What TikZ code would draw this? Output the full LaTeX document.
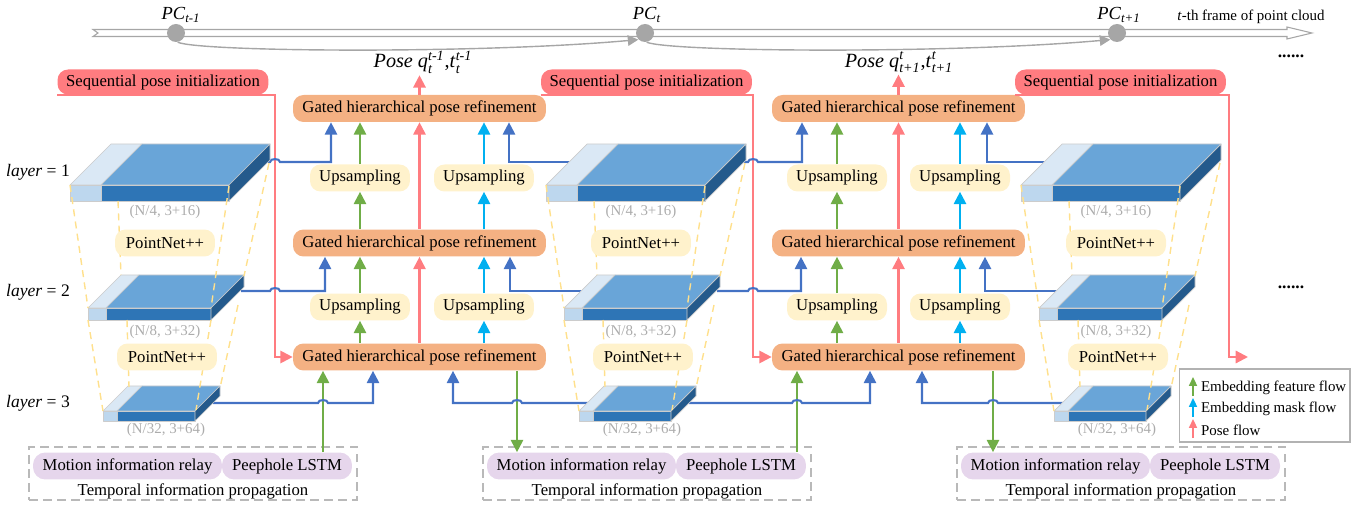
\documentclass[tikz,border=0pt]{standalone}
\usepackage{fontspec}
\setmainfont{Liberation Serif}
\usepackage{amsmath}
\usetikzlibrary{arrows.meta, positioning, calc}

\definecolor{ghprorange}{HTML}{F4B183}
\definecolor{upyellow}{HTML}{FFF2CC}
\definecolor{seqred}{HTML}{FF7C80}
\definecolor{relaypurple}{HTML}{E6D6EC}
\definecolor{featgreen}{HTML}{70AD47}
\definecolor{maskcyan}{HTML}{00B0F0}
\definecolor{posepink}{HTML}{FF7C80}
\definecolor{linkblue}{HTML}{4472C4}
\definecolor{blktop}{HTML}{69A5D8}
\definecolor{blkfront}{HTML}{2E75B6}
\definecolor{blkside}{HTML}{245A8C}
\definecolor{lighttop}{HTML}{DAE8F5}
\definecolor{lightfront}{HTML}{BDD7EE}
\definecolor{dashyellow}{HTML}{FFE08C}
\definecolor{timegray}{HTML}{A6A6A6}

% feature block: front-bottom-left x, y, width, height, depth, light width
\newcommand{\featblock}[6]{%
  \filldraw[blkedge, fill=lightfront] ({#1},{#2}) rectangle ({#1+#6},{#2-#4});
  \filldraw[blkedge, fill=blkfront] ({#1+#6},{#2}) rectangle ({#1+#3},{#2-#4});
  \filldraw[blkedge, fill=lighttop] ({#1},{#2-#4}) -- ({#1+#6},{#2-#4}) -- ({#1+#6+#5},{#2-#4-#5}) -- ({#1+#5},{#2-#4-#5}) -- cycle;
  \filldraw[blkedge, fill=blktop] ({#1+#6},{#2-#4}) -- ({#1+#3},{#2-#4}) -- ({#1+#3+#5},{#2-#4-#5}) -- ({#1+#6+#5},{#2-#4-#5}) -- cycle;
  \filldraw[blkedge, fill=blkside] ({#1+#3},{#2}) -- ({#1+#3},{#2-#4}) -- ({#1+#3+#5},{#2-#4-#5}) -- ({#1+#3+#5},{#2-#5}) -- cycle;
}

\begin{document}
\begin{tikzpicture}[x=0.02cm, y=-0.02cm, font=\fontsize{9.5}{11}\selectfont,
    ghpr/.style={fill=ghprorange, rounded corners=6pt, minimum width=5.06cm, minimum height=0.54cm, inner sep=0pt},
    upbox/.style={fill=upyellow, rounded corners=6pt, minimum width=2cm, minimum height=0.54cm, inner sep=0pt},
    seqbox/.style={fill=seqred, rounded corners=6pt, minimum width=4.22cm, minimum height=0.5cm, inner sep=0pt},
    relay/.style={fill=relaypurple, rounded corners=7pt, minimum height=0.54cm, inner sep=0pt},
    tpbox/.style={draw=gray!55, dash pattern=on 5pt off 3pt, line width=0.9pt, minimum width=6.56cm, minimum height=1.06cm, inner sep=0pt},
    dimlabel/.style={text=gray!65, font=\fontsize{8.5}{10}\selectfont},
    layerlabel/.style={font=\fontsize{10}{12}\selectfont},
    poselabel/.style={font=\fontsize{11.5}{13}\selectfont, inner sep=1pt},
    pclabel/.style={font=\fontsize{10.5}{12}\selectfont, inner sep=1pt},
    flow/.style={line width=1.2pt, -{Triangle[width=7pt,length=7pt]}},
    gflow/.style={flow, featgreen},
    cflow/.style={flow, maskcyan},
    pflow/.style={flow, posepink},
    bflow/.style={flow, linkblue},
    blkedge/.style={draw=gray!40, line width=0.4pt, line join=round},
    yelldash/.style={dashyellow, line width=0.8pt, dash pattern=on 4pt off 3pt},
    legtext/.style={anchor=west, font=\fontsize{8.5}{10}\selectfont, inner sep=1pt},
    legarrow/.style={line width=1pt, -{Triangle[width=4.5pt,length=5pt]}}]

    \useasboundingbox (0,0) rectangle (1359,506);

    % time line of point cloud frames
    \draw[timegray, fill=white, line width=0.6pt] (93,29.5) -- (1287,29.5) -- (1287,27) -- (1312,33) -- (1287,39) -- (1287,36.5) -- (93,36.5) -- (98,33) -- cycle;
    \node[circle, fill=timegray, minimum size=0.36cm, inner sep=0pt] (pc-a) at (176,33) {};
    \node[circle, fill=timegray, minimum size=0.36cm, inner sep=0pt] (pc-b) at (645,33) {};
    \node[circle, fill=timegray, minimum size=0.36cm, inner sep=0pt] (pc-c) at (1117,33) {};
    \node[pclabel] (pc-a-lbl) at (181,15) {\textit{PC}$_{\textit{t-1}}$};
    \node[pclabel] (pc-b-lbl) at (647,15) {\textit{PC}$_{\textit{t}}$};
    \node[pclabel] (pc-c-lbl) at (1119,15) {\textit{PC}$_{\textit{t+1}}$};
    \node[font=\fontsize{8.5}{10}\selectfont] (frame-lbl) at (1251,17) {\textit{t}-th frame of point cloud};
    \draw[timegray, line width=0.8pt, -{Triangle[width=6pt,length=6pt]}] (pc-a.-80) .. controls (200,52) and (480,54) .. (pc-b.-135);
    \draw[timegray, line width=0.8pt, -{Triangle[width=6pt,length=6pt]}] (pc-b.-80) .. controls (670,52) and (950,54) .. (pc-c.-135);

    % pose outputs
    \node[poselabel] (pose-a) at (423,62) {\textit{Pose q}$_{\textit{t}}^{\textit{t-1}}$,\textit{t}$_{\textit{t}}^{\textit{t-1}}$};
    \node[poselabel] (pose-b) at (899,62) {\textit{Pose q}$_{\textit{t+1}}^{\textit{t}}$,\textit{t}$_{\textit{t+1}}^{\textit{t}}$};
    \node[font=\bfseries] (dots-top) at (1291,56) {......};
    \node[font=\bfseries] (dots-mid) at (1291,287) {......};

    % sequential pose initialization
    \node[seqbox] (seq-a) at (163,82) {Sequential pose initialization};
    \node[seqbox] (seq-b) at (646.5,82) {Sequential pose initialization};
    \node[seqbox] (seq-c) at (1120.5,82) {Sequential pose initialization};
    \coordinate (pose-out) at (1248,357);

    % gated refinement columns
    \foreach \c/\cx/\ul/\ur in {a/419.5/360/484, b/898.5/837/960} {
        \node[ghpr] (ghpr-\c1) at (\cx,108.5) {Gated hierarchical pose refinement};
        \node[ghpr] (ghpr-\c2) at (\cx,243) {Gated hierarchical pose refinement};
        \node[ghpr] (ghpr-\c3) at (\cx,357) {Gated hierarchical pose refinement};
        \node[upbox] (up-\c1l) at (\ul,178) {Upsampling};
        \node[upbox] (up-\c1r) at (\ur,178) {Upsampling};
        \node[upbox] (up-\c2l) at (\ul,307) {Upsampling};
        \node[upbox] (up-\c2r) at (\ur,307) {Upsampling};
    }

    % temporal information propagation
    \foreach \tx/\g in {29/a, 483/b, 957/c} {
        \node[tpbox] (tp-\g) at ({\tx+164},473.5) {};
        \node[relay, minimum width=3.78cm] (relay-\g) at ({\tx+98.5},466) {Motion information relay};
        \node[relay, minimum width=2.6cm] (peep-\g) at ({\tx+258},466) {Peephole LSTM};
        \node (tp-\g-txt) at ({\tx+164},491) {Temporal information propagation};
    }

    % layer labels
    \node[layerlabel] (layer-1) at (38,172) {\textit{layer} = 1};
    \node[layerlabel] (layer-2) at (38,292) {\textit{layer} = 2};
    \node[layerlabel] (layer-3) at (38,403) {\textit{layer} = 3};

    % legend
    \node[draw=gray!60, line width=0.6pt, minimum width=3.42cm, minimum height=1.46cm, inner sep=0pt] (legend) at (1264.5,405.5) {};
    \node[legtext] (leg-feat) at (1199,388) {Embedding feature flow};
    \node[legtext] (leg-mask) at (1199,409) {Embedding mask flow};
    \node[legtext] (leg-pose) at (1199,430) {Pose flow};
    \draw[legarrow, featgreen] ($(leg-feat.west)+(-6,8)$) -- ($(leg-feat.west)+(-6,-11)$);
    \draw[legarrow, maskcyan] ($(leg-mask.west)+(-6,8)$) -- ($(leg-mask.west)+(-6,-11)$);
    \draw[legarrow, posepink] ($(leg-pose.west)+(-6,8)$) -- ($(leg-pose.west)+(-6,-11)$);

    % pose initialization into the lowest refinement
    \draw[pflow] (seq-a.south west) -- (seq-a.south west -| 275,0) |- (ghpr-a3.west);
    \draw[pflow] (seq-b.south west) -- (seq-b.south west -| 753,0) |- (ghpr-b3.west);
    \draw[pflow] (seq-c.south west) -- (seq-c.south west -| 1229,0) |- (pose-out);

    % flows inside each column
    \foreach \c in {a,b} {
        \draw[gflow] (up-\c1l.north) -- (up-\c1l.north |- ghpr-\c1.south);
        \draw[gflow] (up-\c1l.south |- ghpr-\c2.north) -- (up-\c1l.south);
        \draw[gflow] (up-\c2l.north) -- (up-\c2l.north |- ghpr-\c2.south);
        \draw[gflow] (up-\c2l.south |- ghpr-\c3.north) -- (up-\c2l.south);
        \draw[cflow] (up-\c1r.north) -- (up-\c1r.north |- ghpr-\c1.south);
        \draw[cflow] (up-\c1r.south |- ghpr-\c2.north) -- (up-\c1r.south);
        \draw[cflow] (up-\c2r.north) -- (up-\c2r.north |- ghpr-\c2.south);
        \draw[cflow] (up-\c2r.south |- ghpr-\c3.north) -- (up-\c2r.south);
        \draw[pflow] (ghpr-\c3.north) -- (ghpr-\c2.south);
        \draw[pflow] (ghpr-\c2.north) -- (ghpr-\c1.south);
        \draw[pflow] (ghpr-\c1.north) -- (ghpr-\c1.north |- pose-\c.south);
    }

    % temporal flows
    \draw[gflow] (peep-a.north -| 323,0) -- (ghpr-a3.south -| 323,0);
    \draw[gflow] (ghpr-a3.south -| 517,0) -- (relay-b.north -| 517,0);
    \draw[gflow] (peep-b.north -| 797,0) -- (ghpr-b3.south -| 797,0);
    \draw[gflow] (ghpr-b3.south -| 993,0) -- (relay-c.north -| 993,0);

    % block attachment points
    \foreach \dx/\g in {0/a, 476/b, 951/c} {
        \coordinate (l1-\g-r) at ({268+\dx},162);
        \coordinate (l1-\g-l) at ({97+\dx},162);
        \coordinate (l2-\g-r) at ({241+\dx},291);
        \coordinate (l2-\g-l) at ({109+\dx},291);
        \coordinate (l3-\g-r) at ({213+\dx},403);
        \coordinate (l3-\g-l) at ({114+\dx},403);
    }

    % embedded features into the refinements
    \draw[bflow] (l1-a-r) -- (270,162) to[out=90,in=90] (280,162) -- (331,162) -- (ghpr-a1.south -| 331,0);
    \draw[bflow] (l1-b-l) -- (509,162) -- (ghpr-a1.south -| 509,0);
    \draw[bflow] (l2-a-r) -- (270,291) to[out=90,in=90] (280,291) -- (325,291) -- (ghpr-a2.south -| 325,0);
    \draw[bflow] (l2-b-l) -- (510,291) -- (ghpr-a2.south -| 510,0);
    \draw[bflow] (l3-a-r) -- (318,403) to[out=90,in=90] (328,403) -- (373,403) -- (ghpr-a3.south -| 373,0);
    \draw[bflow] (l3-b-l) -- (522,403) to[out=90,in=90] (512,403) -- (453,403) -- (ghpr-a3.south -| 453,0);
    \draw[bflow] (l1-b-r) -- (748,162) to[out=90,in=90] (758,162) -- (802,162) -- (ghpr-b1.south -| 802,0);
    \draw[bflow] (l1-c-l) -- (987,162) -- (ghpr-b1.south -| 987,0);
    \draw[bflow] (l2-b-r) -- (748,291) to[out=90,in=90] (758,291) -- (801,291) -- (ghpr-b2.south -| 801,0);
    \draw[bflow] (l2-c-l) -- (985,291) -- (ghpr-b2.south -| 985,0);
    \draw[bflow] (l3-b-r) -- (792,403) to[out=90,in=90] (802,403) -- (870,403) -- (ghpr-b3.south -| 870,0);
    \draw[bflow] (l3-c-l) -- (998,403) to[out=90,in=90] (988,403) -- (922,403) -- (ghpr-b3.south -| 922,0);

    % PointNet++ feature pyramids
    \foreach \dx/\g in {0/a, 476/b, 951/c} {
        \featblock{70+\dx}{201}{159}{16}{41}{31}
        \featblock{88+\dx}{320}{123}{12}{33}{18}
        \featblock{103+\dx}{421}{92}{10}{25}{14}
        \draw[yelldash] ({70+\dx},185) -- ({88+\dx},308);
        \draw[yelldash] ({118+\dx},201) -- ({121+\dx},275);
        \draw[yelldash] ({229+\dx},186) -- ({211+\dx},308);
        \draw[yelldash] ({269+\dx},163) -- ({244+\dx},276);
        \draw[yelldash] ({88+\dx},320) -- ({103+\dx},411);
        \draw[yelldash] ({127+\dx},320) -- ({129+\dx},387);
        \draw[yelldash] ({211+\dx},320) -- ({196+\dx},410);
        \draw[yelldash] ({238+\dx},305) -- ({220+\dx},388);
        \node[upbox] (pn-\g1) at ({165+\dx},243) {PointNet++};
        \node[upbox] (pn-\g2) at ({167+\dx},357) {PointNet++};
        \node[dimlabel] (dim-\g1) at ({165+\dx},212) {(N/4, 3+16)};
        \node[dimlabel] (dim-\g2) at ({165+\dx},332) {(N/8, 3+32)};
        \node[dimlabel] (dim-\g3) at ({166+\dx},430) {(N/32, 3+64)};
    }
\end{tikzpicture}
\end{document}
